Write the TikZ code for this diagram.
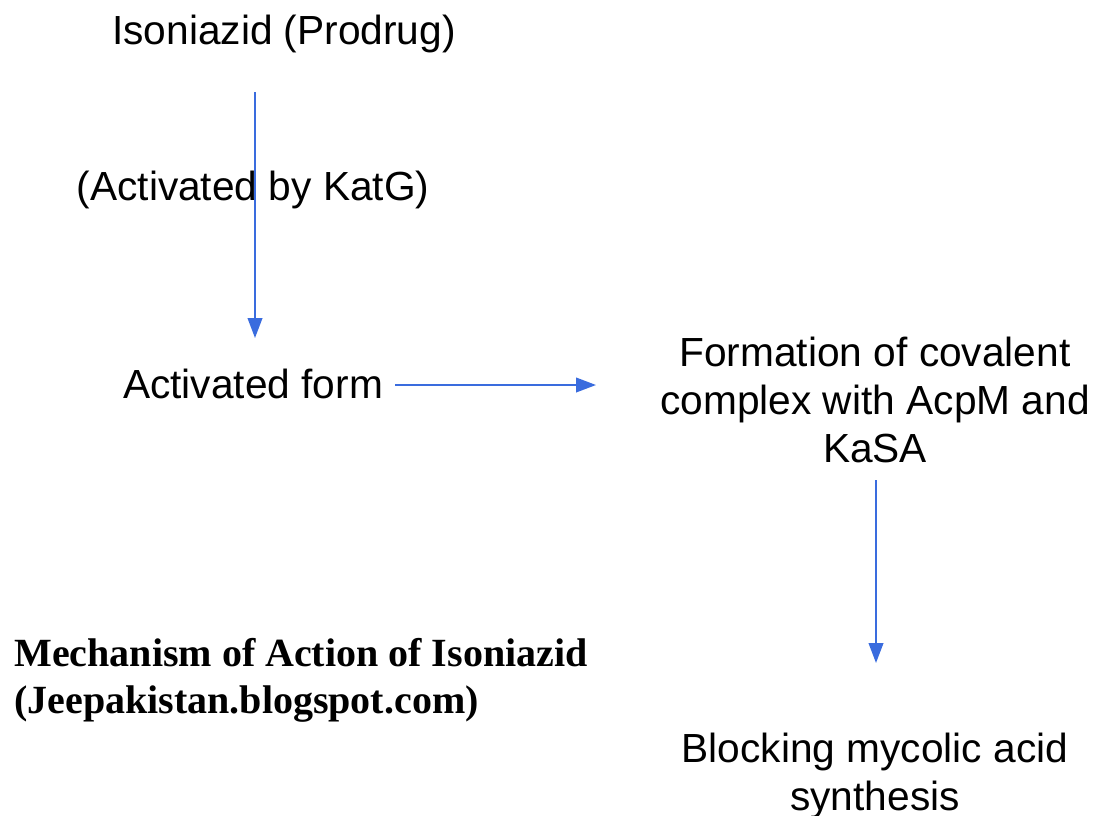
\documentclass[tikz,border=0pt]{standalone}
\usepackage{fontspec}
\setmainfont{Liberation Sans}
\newfontfamily\capfont{Liberation Serif}
\usetikzlibrary{arrows.meta}
\definecolor{arrblue}{RGB}{58,108,222}
\tikzset{
  lbl/.style={inner sep=0pt, anchor=base, align=center, font=\fontsize{30.5}{36}\selectfont},
  captext/.style={inner sep=0pt, anchor=base west, align=left, font=\capfont\bfseries\fontsize{30}{35}\selectfont},
  arr/.style={draw=arrblue, line width=1.4pt, -{Triangle[length=15pt,width=11pt]}}
}
\begin{document}
\begin{tikzpicture}[x=0.75pt,y=-0.75pt]
\useasboundingbox (0,0) rectangle (1095,815);
\node[lbl] (iso) at (284,44) {Isoniazid (Prodrug)};
\node[lbl] (katg) at (253,200) {(Activated by KatG)};
\node[lbl] (act) at (253,398) {Activated form};
\node[lbl] (form) at (875,462) {Formation of covalent\\complex with AcpM and\\KaSA};
\node[lbl] (block) at (875,810) {Blocking mycolic acid\\synthesis};
\node[captext] (title) at (14,713) {Mechanism of Action of Isoniazid\\(Jeepakistan.blogspot.com)};
\coordinate (a1s) at (255,92);
\coordinate (a1e) at (255,338);
\coordinate (a2s) at (395,385);
\coordinate (a2e) at (596,385);
\coordinate (a3s) at (876,480);
\coordinate (a3e) at (876,663);
\draw[arr] (a1s) -- (a1e);
\draw[arr] (a2s) -- (a2e);
\draw[arr] (a3s) -- (a3e);
\end{tikzpicture}
\end{document}
